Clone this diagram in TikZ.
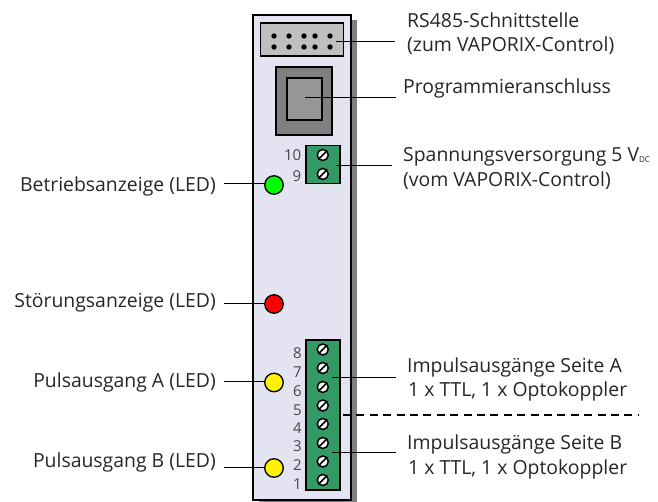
\documentclass[tikz,border=0pt]{standalone}
\usepackage{fontspec}
\setmainfont{Open Sans}
\usetikzlibrary{positioning}
\definecolor{panelfill}{HTML}{E3E3F1}
\definecolor{termgreen}{HTML}{339966}
\tikzset{
  panel/.style={draw=black, line width=2pt, fill=panelfill, inner sep=0pt},
  block/.style={draw=black, line width=1.4pt, inner sep=0pt},
  led/.style={circle, draw=black, line width=1.3pt, minimum size=18.5pt, inner sep=0pt},
  screw/.style={circle, draw=black, line width=1.5pt, fill=white, minimum size=11pt, inner sep=0pt},
  pinno/.style={font=\fontsize{15}{15}\selectfont, text=black!72, anchor=base east, inner sep=0pt},
  caption/.style={font=\fontsize{19.4}{24}\selectfont, text=black!85, inner sep=0pt},
  wire/.style={line width=1.3pt},
}
\begin{document}
\begin{tikzpicture}[x=1pt, y=-1pt]
    \useasboundingbox (0,0) rectangle (658,502);
    % housing
    \fill[black!50] (259,20) rectangle (357,502);
    \node[panel, minimum width=98pt, minimum height=485pt] (housing) at (302,257.5) {};
    % sockets
    \node[block, fill=black!25, minimum width=83pt, minimum height=33pt] (header) at (302,39.5) {};
    \foreach \px in {274,289,304,315,330} {
        \fill (\px,36) circle[radius=2.7pt];
        \fill (\px,47) circle[radius=2.7pt];
    }
    \node[block, fill=black!50, minimum width=56pt, minimum height=68pt] (usb) at (304,101) {};
    \node[block, fill=black!41, minimum width=35pt, minimum height=42pt] (usbinner) at (304.5,99) {};
    % terminals
    \node[block, fill=termgreen, minimum width=34pt, minimum height=37.5pt] (supply) at (322.8,164.5) {};
    \node[block, fill=termgreen, minimum width=34pt, minimum height=150pt] (pulse) at (322.8,415) {};
    \foreach \py/\pbase/\pno in {155/161/10,174/182/9} {
        \node[screw] (supply\pno) at (322.8,\py) {};
        \draw[line width=1.5pt] (supply\pno.225) -- (supply\pno.45);
        \node[pinno] (nosupply\pno) at (301.5,\pbase) {\pno};
    }
    \foreach \py/\pbase/\pno in {349.5/358/8,368/377/7,387/396/6,405.5/415/5,424/433/4,443/451/3,461.5/470/2,480/489/1} {
        \node[screw] (pulse\pno) at (322.8,\py) {};
        \draw[line width=1.5pt] (pulse\pno.225) -- (pulse\pno.45);
        \node[pinno] (nopulse\pno) at (302,\pbase) {\pno};
    }
    % captions
    \node[caption, anchor=base west] (txtrs) at (407,28) {RS485-Schnittstelle};
    \node[caption, anchor=base west] (txtrsb) at (407,52) {(zum VAPORIX-Control)};
    \node[caption, anchor=base west] (txtprog) at (403,94) {Programmieranschluss};
    \node[caption, anchor=base west] (txtsupply) at (403,162) {Spannungsversorgung 5 V\raisebox{-1pt}{\fontsize{8}{8}\selectfont DC}};
    \node[caption, anchor=base west] (txtsupplyb) at (403,187) {(vom VAPORIX-Control)};
    \node[caption, anchor=base west] (txta) at (407,372) {Impulsausgänge Seite A};
    \node[caption, anchor=base west] (txtab) at (408,396) {1 x TTL, 1 x Optokoppler};
    \node[caption, anchor=base west] (txtb) at (407,449) {Impulsausgänge Seite B};
    \node[caption, anchor=base west] (txtbb) at (408,474) {1 x TTL, 1 x Optokoppler};
    \node[caption, anchor=base east] (txtrun) at (216,192) {Betriebsanzeige (LED)};
    \node[caption, anchor=base east] (txtfault) at (216,308) {Störungsanzeige (LED)};
    \node[caption, anchor=base east] (txtleda) at (216,387) {Pulsausgang A (LED)};
    \node[caption, anchor=base east] (txtledb) at (216,467) {Pulsausgang B (LED)};
    % connectors
    \coordinate (endrs) at (336,41.7);
    \coordinate (freers) at (395,41.7);
    \coordinate (endprog) at (305,97.7);
    \coordinate (freeprog) at (396,97.7);
    \coordinate (endsupply) at (336,165.4);
    \coordinate (freesupply) at (392,165.4);
    \coordinate (enda) at (332,377.7);
    \coordinate (freea) at (396,377.7);
    \coordinate (endb) at (332,452.3);
    \coordinate (freeb) at (396,452.3);
    \coordinate (freerun) at (224,183.3);
    \coordinate (freefault) at (224,303.3);
    \coordinate (freeleda) at (224,381.3);
    \coordinate (freeledb) at (224,467.3);
    \coordinate (dashstart) at (343,415);
    \coordinate (dashend) at (638,415);
    \draw[wire] (endrs) -- (freers);
    \draw[wire] (endprog) -- (freeprog);
    \draw[wire] (endsupply) -- (freesupply);
    \draw[wire] (enda) -- (freea);
    \draw[wire] (endb) -- (freeb);
    \draw[wire] (freerun) -- (274,183.3);
    \draw[wire] (freefault) -- (274,303.3);
    \draw[wire] (freeleda) -- (274,381.3);
    \draw[wire] (freeledb) -- (274,467.3);
    \draw[wire, dash pattern=on 8pt off 5.4pt] (dashstart) -- (dashend);
    % LEDs
    \node[led, fill=green] (ledrun) at (274,185) {};
    \node[led, fill=red] (ledfault) at (274,304) {};
    \node[led, fill=yellow] (leda) at (274,382.5) {};
    \node[led, fill=yellow] (ledb) at (274,468) {};
\end{tikzpicture}
\end{document}
